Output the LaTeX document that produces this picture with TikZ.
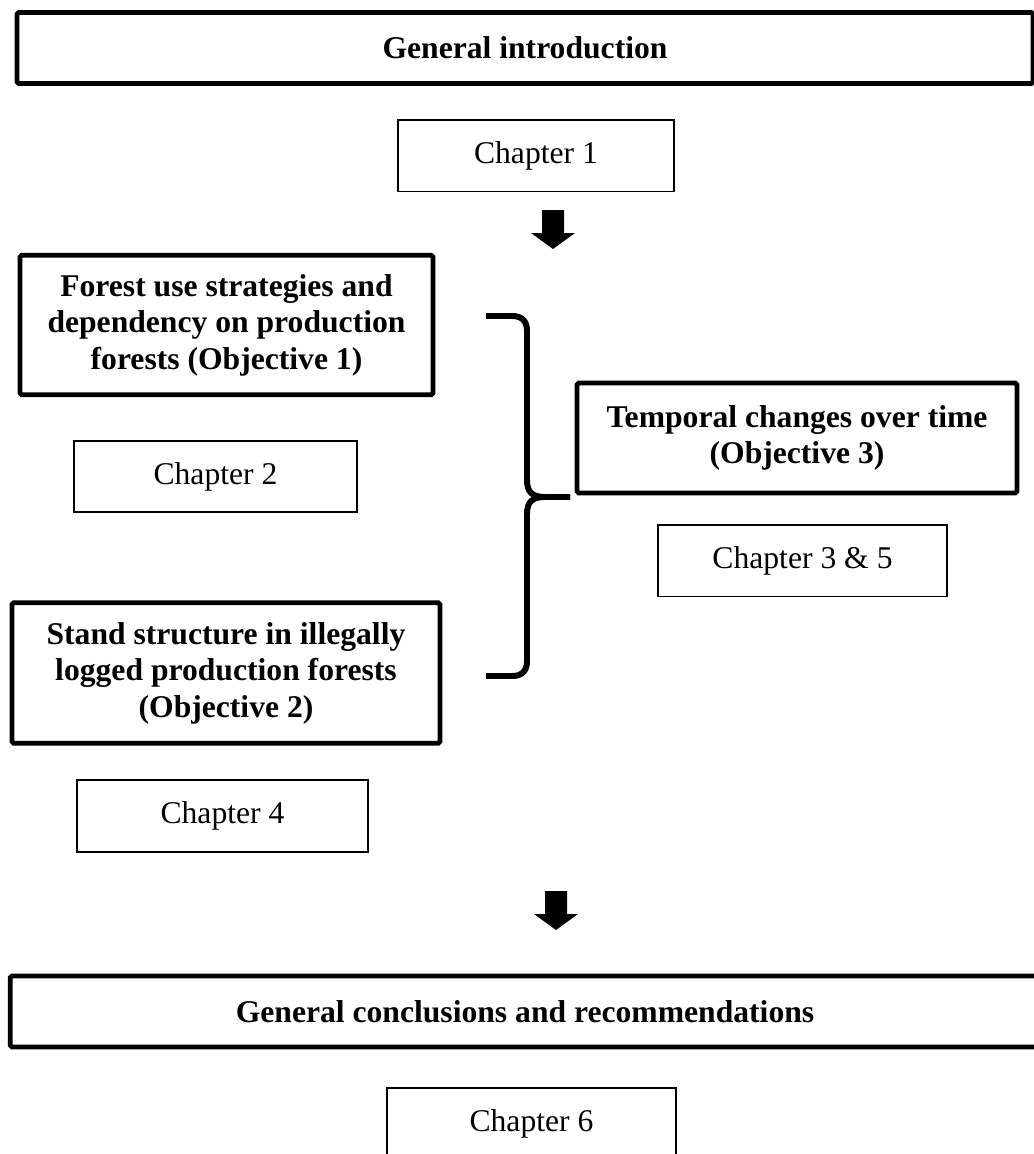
\documentclass[tikz,border=0pt]{standalone}
\usepackage{fontspec}
\setmainfont{Liberation Serif}
\usetikzlibrary{positioning, calc}

\begin{document}
\begin{tikzpicture}[
  >=stealth,
  mainbox/.style={draw, rectangle, line width=2.8pt, rounded corners=1pt, outer sep=0pt, inner sep=2pt, font=\fontsize{18}{20.8}\selectfont\bfseries, align=center},
  chapbox/.style={draw, rectangle, line width=1.1pt, outer sep=0pt, minimum height=1.43cm, font=\fontsize{18}{20.8}\selectfont},
  bracket/.style={line width=3.4pt, line join=round},
  blockarrow/.pic={\fill (-0.22,0) -- (-0.22,-0.46) -- (-0.44,-0.46) -- (0,-0.78) -- (0.44,-0.46) -- (0.22,-0.46) -- (0.22,0) -- cycle;}
]

\useasboundingbox (0,0) rectangle (20.68,-23.08);
\clip (0,0) rectangle (20.68,-23.08);

% Introduction
\node[mainbox, minimum width=20.32cm, minimum height=1.42cm] (intro) at (10.50,-0.96) {General introduction};
\node[chapbox, minimum width=5.52cm, below=0.73cm of intro, xshift=0.22cm] (ch1) {Chapter 1};
\coordinate (arrowA) at (11.06,-4.20);
\pic at (arrowA) {blockarrow};

% Objectives 1 and 2 (left column)
\node[mainbox, minimum width=8.26cm, minimum height=2.79cm] (obj1) at (4.53,-6.50) {Forest use strategies and\\dependency on production\\forests (Objective 1)};
\node[chapbox, minimum width=5.66cm, below=0.92cm of obj1, xshift=-0.22cm] (ch2) {Chapter 2};
\node[mainbox, minimum width=8.56cm, minimum height=2.81cm] (obj2) at (4.52,-13.46) {Stand structure in illegally\\logged production forests\\(Objective 2)};
\node[chapbox, minimum width=5.82cm, below=0.74cm of obj2, xshift=-0.07cm] (ch4) {Chapter 4};

% Objective 3 (right column)
\node[mainbox, minimum width=8.80cm, minimum height=2.20cm] (obj3) at (15.94,-8.76) {Temporal changes over time\\(Objective 3)};
\node[chapbox, minimum width=5.78cm, below=0.64cm of obj3, xshift=0.11cm] (ch35) {Chapter 3 \& 5};

% Brace joining the two columns
\coordinate (braceTop) at (9.72,-6.32);
\coordinate (braceTip) at (11.40,-9.94);
\coordinate (braceBot) at (9.72,-13.52);
\draw[bracket] (braceTop) -- ++(0.52,0) .. controls +(0.2,0) and +(0,0.2) .. ++(0.30,-0.30)
  -- ++(0,-2.98) .. controls +(0,-0.24) and +(-0.26,0) .. ++(0.36,-0.34) -- (braceTip);
\draw[bracket] (braceTip) -- ++(-0.50,0) .. controls +(-0.26,0) and +(0,0.24) .. ++(-0.36,-0.34)
  -- ++(0,-2.94) .. controls +(0,-0.2) and +(0.2,0) .. ++(-0.30,-0.30) -- (braceBot);

% Conclusions
\coordinate (arrowB) at (11.12,-17.82);
\pic at (arrowB) {blockarrow};
\node[mainbox, minimum width=20.59cm, minimum height=1.42cm] (concl) at (10.50,-20.23) {General conclusions and recommendations};
\node[chapbox, minimum width=5.78cm, below=0.82cm of concl, xshift=0.13cm] (ch6) {Chapter 6};

\end{tikzpicture}
\end{document}
